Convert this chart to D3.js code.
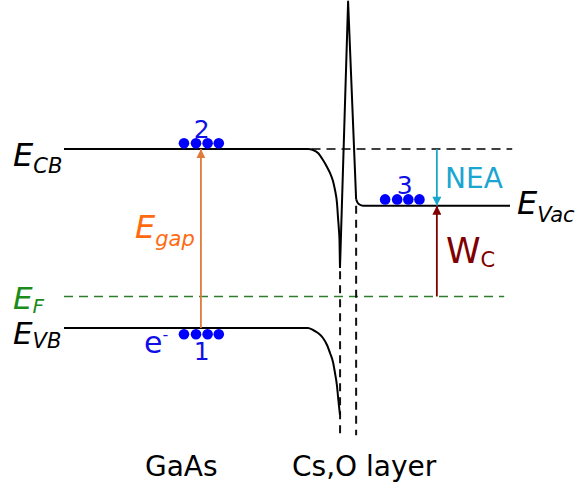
<!DOCTYPE html>
<html>
<head>
<meta charset="utf-8">
<script src="https://cdn.jsdelivr.net/npm/d3@7"></script>
<style>
html,body{margin:0;padding:0;background:#fff;}
svg{display:block;font-family:"DejaVu Sans",sans-serif;}
</style>
</head>
<body>
<svg id="chart" width="577" height="487"></svg>
<script>
// ---- data (position in arbitrary units, energy in eV) ----
const levelNames  = ["CB", "VB", "F", "Vac"];
const levelEnergy = [1.42, 0.00, 0.25, 0.97];

const cbBandX = [0, 5.471, 5.583, 5.695, 5.807, 5.897, 5.964, 6.031, 6.076, 6.121, 6.143, 6.166, 6.177, 6.188];
const cbBandE = [1.42, 1.42, 1.412, 1.388, 1.333, 1.277, 1.230, 1.166, 1.095, 0.991, 0.880, 0.769, 0.698, 0.476];
const vbBandX = [0, 5.471, 5.583, 5.695, 5.807, 5.897, 5.964, 6.031, 6.076, 6.121, 6.143, 6.166, 6.188];
const vbBandE = [0, 0, -0.016, -0.040, -0.079, -0.135, -0.198, -0.270, -0.357, -0.460, -0.540, -0.619, -0.690];
const spikeX  = [6.188, 6.37, 6.55];
const spikeE  = [0.476, 2.59, 1.02];
const vacBandX = [6.55, 6.60, 6.70, 10];
const vacBandE = [1.02, 0.985, 0.97, 0.97];

const layerEdges = [6.19, 6.55];
const layerBottom = -0.85;

const electronLabels = ["2", "1", "3"];
const electronX = [[2.69, 2.96, 3.22, 3.47], [2.69, 2.96, 3.22, 3.47], [7.20, 7.47, 7.72, 7.97]];
const electronE = [1.465, -0.05, 1.02];

const regionLabels = ["GaAs", "Cs,O layer"];

// ---- scales ----
const svg = d3.select("#chart");
const x = d3.scaleLinear().domain([0, 10]).range([64, 510]);
const y = d3.scaleLinear().domain([0, 1.42]).range([328, 149]);
const E = n => levelEnergy[levelNames.indexOf(n)];

const line = d3.line().x(d => x(d[0])).y(d => y(d[1]));
const zip = (a, b) => a.map((v, i) => [v, b[i]]);

// markers
const defs = svg.append("defs");
function marker(id, color) {
  defs.append("marker").attr("id", id)
    .attr("viewBox", "0 0 10 10").attr("refX", 10).attr("refY", 5)
    .attr("markerWidth", 10).attr("markerHeight", 9)
    .attr("markerUnits", "userSpaceOnUse").attr("orient", "auto")
    .append("path").attr("d", "M0,0 L10,5 L0,10 Z").attr("fill", color);
}
const cOrange = "#e07a3c", cCyan = "#1aa6cc", cRed = "#7f0000", cGreen = "#2e7d2e";
marker("mOrange", cOrange); marker("mCyan", cCyan); marker("mRed", cRed);

// dashed lines
svg.append("path").attr("d", line([[5.55, E("CB")], [10.05, E("CB")]]))
  .attr("stroke", "#000").attr("stroke-width", 1.7).attr("stroke-dasharray", "9,6").attr("fill", "none");
svg.append("path").attr("d", line([[0, E("F")], [9.87, E("F")]]))
  .attr("stroke", cGreen).attr("stroke-width", 1.7).attr("stroke-dasharray", "9,6").attr("fill", "none");
svg.append("path").attr("d", line([[layerEdges[0], 0.45], [layerEdges[0], layerBottom]]))
  .attr("stroke", "#111").attr("stroke-width", 2).attr("stroke-dasharray", "8,6").attr("fill", "none");
svg.append("path").attr("d", line([[layerEdges[1], E("Vac")], [layerEdges[1], layerBottom]]))
  .attr("stroke", "#111").attr("stroke-width", 2).attr("stroke-dasharray", "8,6").attr("fill", "none");

// bands
const mono = d3.line().x(d => x(d[0])).y(d => y(d[1])).curve(d3.curveMonotoneX);
[[cbBandX, cbBandE, mono], [vbBandX, vbBandE, mono], [spikeX, spikeE, line], [vacBandX, vacBandE, mono]]
  .forEach(([bx, be, gen]) => {
    svg.append("path").attr("d", gen(zip(bx, be)))
      .attr("fill", "none").attr("stroke", "#000").attr("stroke-width", 2)
      .attr("stroke-linejoin", "round");
  });

// arrows
function arrow(u, e0, e1, color, m) {
  svg.append("path").attr("d", line([[u, e0], [u, e1]]))
    .attr("stroke", color).attr("stroke-width", 1.8).attr("fill", "none")
    .attr("marker-end", `url(#${m})`);
}
arrow(3.07, E("VB"), E("CB"), cOrange, "mOrange");
arrow(8.36, E("CB"), E("Vac"), cCyan, "mCyan");
arrow(8.36, E("F"), E("Vac"), cRed, "mRed");

// electrons
electronX.forEach((xs, i) => {
  svg.selectAll(null).data(xs).enter().append("circle")
    .attr("cx", d => x(d)).attr("cy", y(electronE[i])).attr("r", 5.3).attr("fill", "#0000ff");
});
const lblOffsets = [-5, 26, -5];
electronLabels.forEach((t, i) => {
  const xs = electronX[i];
  svg.append("text").attr("x", x((xs[1] + xs[2]) / 2) + (i === 2 ? 2 : 0))
    .attr("y", y(electronE[i]) + lblOffsets[i])
    .attr("text-anchor", "middle").attr("font-size", 25).attr("fill", "#1010e6").text(t);
});
const eminus = svg.append("text").attr("x", 144).attr("y", 353).attr("fill", "#1010e6").attr("font-size", 30);
eminus.append("tspan").text("e");
eminus.append("tspan").attr("font-size", 16).attr("dy", -13).text("-");

// level labels
function eLabel(xp, yp, sub, dy, color, size, subSize, italic) {
  const t = svg.append("text").attr("x", xp).attr("y", yp).attr("fill", color)
    .attr("font-style", italic ? "italic" : "normal");
  t.append("tspan").attr("font-size", size).text(sub[0]);
  t.append("tspan").attr("font-size", subSize).attr("dy", dy).text(sub[1]);
}
eLabel(13, y(E("CB")) + 17, ["E", "CB"], 7, "#000", 32, 21, true);
eLabel(13, y(E("F")) + 13, ["E", "F"], 4, "#1a8c1a", 31, 20, true);
eLabel(13, y(E("VB")) + 16, ["E", "VB"], 4, "#000", 31, 21, true);
eLabel(517, y(E("Vac")) + 8, ["E", "Vac"], 8, "#000", 32, 21, true);
eLabel(135, 238, ["E", "gap"], 8, "#ff6a10", 32, 21, true);
eLabel(446, 263, ["W", "C"], 4, cRed, 35, 21, false);
svg.append("text").attr("x", 445).attr("y", 188).attr("font-size", 28).attr("fill", "#1aa6d0").text("NEA");

// region labels
const regionX = [145, 292];
regionLabels.forEach((t, i) => {
  svg.append("text").attr("x", regionX[i]).attr("y", 476).attr("font-size", 28).attr("fill", "#000").text(t);
});
</script>
</body>
</html>
